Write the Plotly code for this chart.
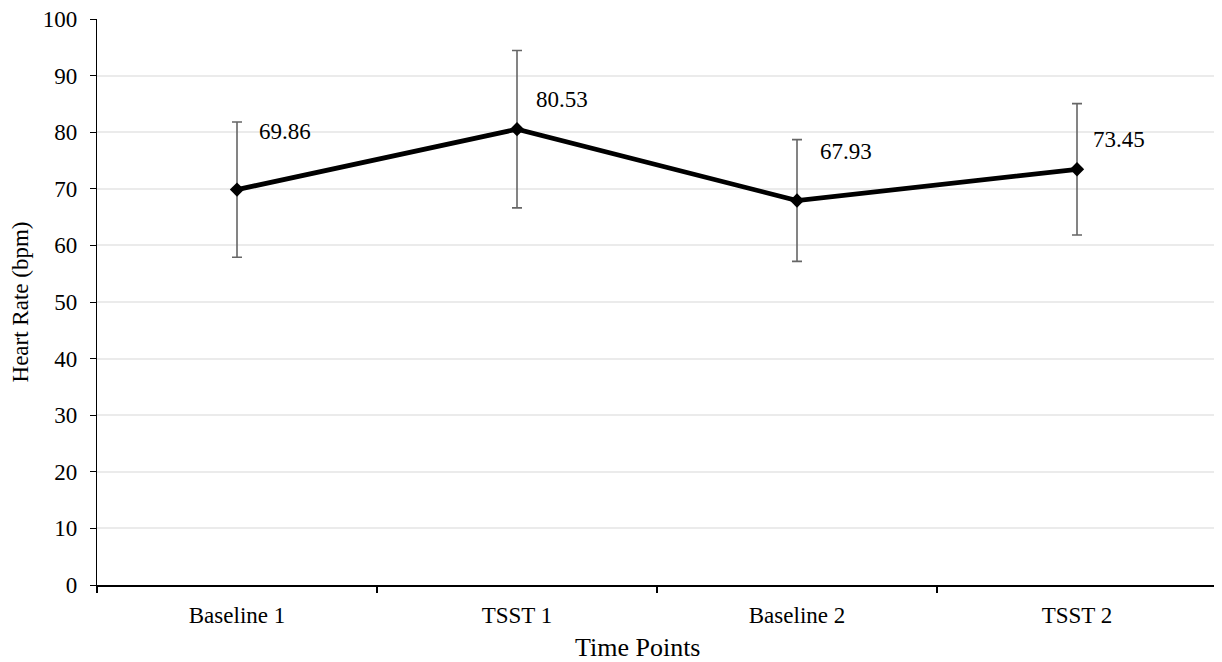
import plotly.graph_objects as go

categories = ["Baseline 1", "TSST 1", "Baseline 2", "TSST 2"]
heart_rate = [69.86, 80.53, 67.93, 73.45]
error = [11.95, 13.9, 10.75, 11.6]
value_labels = ["69.86", "80.53", "67.93", "73.45"]
y_ticks = [0, 10, 20, 30, 40, 50, 60, 70, 80, 90, 100]
x_title = "Time Points"
y_title = "Heart Rate (bpm)"

# label placement offsets (pixels)
label_dx = [20, 17, 21, 14]
label_dy = [58, 30, 49, 30]

FONT = "Liberation Serif, Times New Roman, serif"
FS = 23

fig = go.Figure()
fig.add_trace(go.Scatter(
    x=categories, y=heart_rate, mode="markers",
    marker=dict(size=1, color="rgba(0,0,0,0)"),
    error_y=dict(type="data", array=error, visible=True, color="#666666",
                 thickness=1.6, width=5),
    showlegend=False, hoverinfo="skip",
))
fig.add_trace(go.Scatter(
    x=categories, y=heart_rate, mode="lines+markers",
    line=dict(color="black", width=4.8),
    marker=dict(symbol="diamond", size=11, color="black"),
    showlegend=False,
))

for c, v, t, dx, dy in zip(categories, heart_rate, value_labels, label_dx, label_dy):
    fig.add_annotation(x=c, y=v, text=t, showarrow=False, xanchor="left",
                       yanchor="middle", xshift=dx, yshift=dy,
                       font=dict(family=FONT, size=FS, color="black"))

# x-axis title (slightly left of centre, as in the original)
fig.add_annotation(xref="paper", yref="paper", x=0.483, y=0, text=x_title,
                   showarrow=False, xanchor="center", yanchor="middle",
                   yshift=-62, font=dict(family=FONT, size=26, color="black"))

fig.update_layout(
    width=1214, height=654,
    margin=dict(l=89, r=5, t=11, b=77, autoexpand=False),
    paper_bgcolor="white", plot_bgcolor="white",
    font=dict(family=FONT, size=FS, color="black"),
    xaxis=dict(
        type="category", range=[-0.5, 3.5], tickson="boundaries",
        automargin=False,
        ticks="outside", ticklen=6, tickwidth=1.5, tickcolor="black",
        ticklabelstandoff=9,
        showline=True, linecolor="black", linewidth=1.5,
        showgrid=False, zeroline=False,
        tickfont=dict(family=FONT, size=FS),
    ),
    yaxis=dict(
        range=[0, 100], tickvals=y_ticks, ticks="outside", ticklen=6,
        automargin=False, ticklabeloverflow="allow",
        tickwidth=1.2, tickcolor="black",
        ticklabelstandoff=8,
        showline=True, linecolor="black", linewidth=1.2,
        showgrid=True, gridcolor="#ebebeb", gridwidth=1.5,
        zeroline=False,
        title=dict(text=y_title, standoff=18,
                   font=dict(family=FONT, size=FS)),
        tickfont=dict(family=FONT, size=FS),
    ),
)

fig.write_html("out.html")
